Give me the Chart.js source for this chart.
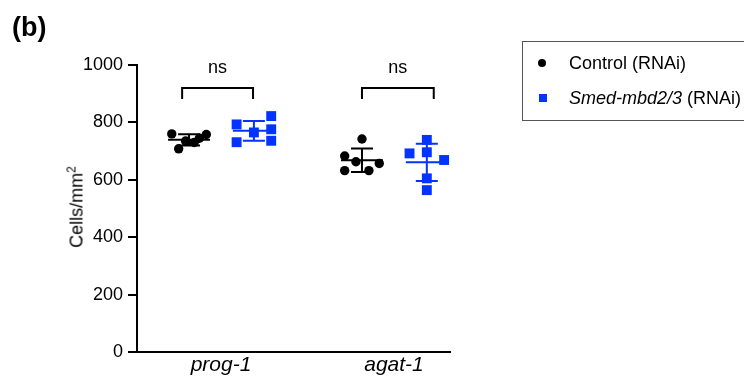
<!DOCTYPE html>
<html>
<head>
<meta charset="utf-8">
<script src="https://cdn.jsdelivr.net/npm/chart.js@4/dist/chart.umd.min.js"></script>
<style>
  body { margin: 0; background: #fff; font-family: "Liberation Sans", Arial, sans-serif; }
  #wrap { position: relative; width: 744px; height: 379px; overflow: hidden; }
  #panel { position: absolute; left: 12px; top: 12px; font-size: 27px; font-weight: bold; }
  #ytitle { position: absolute; left: 76px; top: 207px; transform: translate(-50%, -50%) rotate(-90deg);
            font-size: 18px; white-space: nowrap; color: #000; }
  #ytitle sup { font-size: 12px; vertical-align: 7px; }
  #legend { position: absolute; left: 522px; top: 41px; width: 240px; height: 80px;
            border: 1px solid #555; box-sizing: border-box; font-size: 18px; color: #000; }
  .row { position: absolute; left: 0; height: 22px; line-height: 22px; white-space: nowrap; }
  .dot { position: absolute; left: 15px; top: 7px; width: 8px; height: 8px; border-radius: 50%; background: #000; }
  .sq { position: absolute; left: 16px; top: 7px; width: 8px; height: 8px; background: #0433ff; }
  .lbl { position: absolute; left: 46px; top: 0; }
</style>
</head>
<body>
<div id="wrap">
  <canvas id="chart" width="744" height="379"></canvas>
  <div id="panel">(b)</div>
  <div id="ytitle">Cells/mm<sup>2</sup></div>
  <div id="legend">
    <div class="row" style="top:10px"><span class="dot"></span><span class="lbl">Control (RNAi)</span></div>
    <div class="row" style="top:45px"><span class="sq"></span><span class="lbl"><i>Smed-mbd2/3</i> (RNAi)</span></div>
  </div>
</div>
<script>
// categories and groups
const categories = ['prog-1', 'agat-1'];
const seriesNames = ['Control (RNAi)', 'Smed-mbd2/3 (RNAi)'];
const yTicks = [0, 200, 400, 600, 800, 1000];
const significance = ['ns', 'ns'];

// individual values (cells/mm2)
const controlProg = [760, 708, 735, 730, 745, 758];
const controlAgat = [742, 683, 663, 657, 632, 632];
const mbdProg = [793, 731, 765, 822, 776, 736];
const mbdAgat = [739, 692, 696, 669, 605, 564];

// horizontal scatter of the dots inside each group (category units)
const controlProgJitter = [-0.1, -0.06, -0.02, 0.03, 0.06, 0.1];
const controlAgatJitter = [0, -0.1, -0.035, 0.1, -0.1, 0.04];
const mbdProgJitter = [-0.1, -0.1, 0, 0.1, 0.1, 0.1];
const mbdAgatJitter = [0, -0.1, 0, 0.1, 0, 0];

const groupOffset = [-0.185, 0.19];
const bracketSpan = [[-0.225, 0.185], [-0.185, 0.23]];
const colors = ['#000000', '#0433ff'];
const FONT = '"Liberation Sans", Arial, sans-serif';

function toPoints(vals, jitter, cat, grp) {
  return vals.map((v, i) => ({ x: cat + groupOffset[grp] + jitter[i], y: v }));
}

const groups = [
  { grp: 0, cat: 0, vals: controlProg },
  { grp: 1, cat: 0, vals: mbdProg },
  { grp: 0, cat: 1, vals: controlAgat },
  { grp: 1, cat: 1, vals: mbdAgat }
];

function meanSd(a) {
  const m = a.reduce((s, v) => s + v, 0) / a.length;
  const sd = Math.sqrt(a.reduce((s, v) => s + (v - m) * (v - m), 0) / (a.length - 1));
  return [m, sd];
}

// mean +- SD lines
const errorBars = {
  id: 'errorBars',
  afterDatasetsDraw(chart) {
    const { ctx, scales: { x, y } } = chart;
    ctx.save();
    ctx.lineWidth = 2;
    groups.forEach(g => {
      const [m, sd] = meanSd(g.vals);
      const cx = x.getPixelForValue(g.cat + groupOffset[g.grp]);
      const ym = y.getPixelForValue(m), yt = y.getPixelForValue(m + sd), yb = y.getPixelForValue(m - sd);
      ctx.strokeStyle = colors[g.grp];
      ctx.beginPath();
      ctx.moveTo(cx - 21, ym); ctx.lineTo(cx + 21, ym);
      ctx.moveTo(cx, yt); ctx.lineTo(cx, yb);
      ctx.moveTo(cx - 11, yt); ctx.lineTo(cx + 11, yt);
      ctx.moveTo(cx - 11, yb); ctx.lineTo(cx + 11, yb);
      ctx.stroke();
    });
    ctx.restore();
  }
};

// significance brackets
const brackets = {
  id: 'brackets',
  afterDraw(chart) {
    const { ctx, scales: { x, y } } = chart;
    ctx.save();
    ctx.lineWidth = 2;
    ctx.strokeStyle = '#000';
    ctx.fillStyle = '#000';
    ctx.font = '18px ' + FONT;
    ctx.textAlign = 'center';
    ctx.textBaseline = 'middle';
    categories.forEach((c, i) => {
      const x1 = x.getPixelForValue(i + bracketSpan[i][0]), x2 = x.getPixelForValue(i + bracketSpan[i][1]);
      const yb = y.getPixelForValue(920);
      ctx.beginPath();
      ctx.moveTo(x1, yb + 11); ctx.lineTo(x1, yb); ctx.lineTo(x2, yb); ctx.lineTo(x2, yb + 11);
      ctx.stroke();
      ctx.fillText(significance[i], (x1 + x2) / 2, yb - 20);
    });
    ctx.restore();
  }
};

new Chart(document.getElementById('chart'), {
  type: 'scatter',
  data: {
    datasets: [
      { label: seriesNames[0], data: toPoints(controlProg, controlProgJitter, 0, 0).concat(toPoints(controlAgat, controlAgatJitter, 1, 0)),
        pointStyle: 'circle', pointRadius: 4.7, backgroundColor: colors[0], borderColor: colors[0], borderWidth: 0 },
      { label: seriesNames[1], data: toPoints(mbdProg, mbdProgJitter, 0, 1).concat(toPoints(mbdAgat, mbdAgatJitter, 1, 1)),
        pointStyle: 'rect', pointRadius: 7, backgroundColor: colors[1], borderColor: colors[1], borderWidth: 0 }
    ]
  },
  options: {
    responsive: false,
    animation: false,
    layout: { padding: { left: 66, top: 65, right: 294, bottom: 0 } },
    plugins: { legend: { display: false }, tooltip: { enabled: false } },
    scales: {
      x: {
        type: 'linear',
        min: -0.486,
        max: 1.324,
        afterBuildTicks: s => { s.ticks = categories.map((c, i) => ({ value: i })); },
        afterFit: s => { s.height = 27; },
        grid: { display: false, drawTicks: false },
        border: { display: true, color: '#000', width: 2 },
        ticks: {
          callback: (v, i) => categories[i],
          color: '#000',
          padding: 1,
          font: { family: FONT, size: 21, style: 'italic' }
        }
      },
      y: {
        min: 0,
        max: 1000,
        afterBuildTicks: s => { s.ticks = yTicks.map(v => ({ value: v })); },
        afterFit: s => { s.width = 71; },
        grid: { drawOnChartArea: false, drawTicks: true, tickLength: 9, color: '#000', lineWidth: 2 },
        border: { display: true, color: '#000', width: 2 },
        ticks: {
          color: '#000', padding: 5,
          callback: v => String(v),
          font: { family: FONT, size: 18 }
        }
      }
    }
  },
  plugins: [errorBars, brackets]
});
</script>
</body>
</html>
